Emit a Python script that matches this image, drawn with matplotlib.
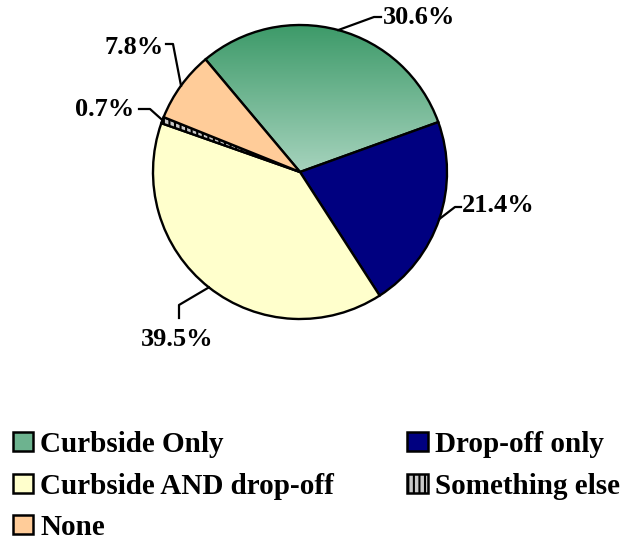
import numpy as np
import matplotlib
matplotlib.use("Agg")
import matplotlib.pyplot as plt
from matplotlib.patches import Patch
from matplotlib.colors import to_rgb

# data
categories = ["Curbside Only", "Drop-off only", "Curbside AND drop-off", "Something else", "None"]
shares = [30.6, 21.4, 39.5, 0.7, 7.8]
colors = ["#6db38f", "#000080", "#ffffcc", "#c8c8c8", "#ffcc99"]
hatches = [None, None, None, "|||", None]

# layout (pixel coords, y from top)
W, H = 629, 543
cx, cy, rad = 300, 172, 147
# elbow points of leader lines and text anchor per slice
elbows = [[(374, 17), (381, 17)],
          [(455, 207), (461, 207)],
          [(179, 305), (179, 318)],
          [(150, 109), (139, 109)],
          [(173, 44), (166, 44)]]
text_pos = [(383, 18, "left", "center"),
            (462, 206, "left", "center"),
            (177, 339, "center", "center"),
            (134, 110, "right", "center"),
            (164, 47, "right", "center")]

plt.rcParams["font.family"] = ["Liberation Serif", "DejaVu Serif"]
plt.rcParams["hatch.linewidth"] = 1.5

fig = plt.figure(figsize=(W / 100, H / 100), dpi=100)
ax = fig.add_axes([0, 0, 1, 1])

wedges, _ = ax.pie(shares, colors=colors, startangle=130, counterclock=False,
                   center=(cx, H - cy), radius=rad,
                   wedgeprops=dict(edgecolor="black", linewidth=1.7))
for w, h in zip(wedges, hatches):
    if h:
        w.set_hatch(h)

# gradient fill for the green slice
top = np.array(to_rgb("#3d9a69"))
bot = np.array(to_rgb("#a6d3bd"))
t = np.linspace(0, 1, 200)[:, None]
grad = (top * (1 - t) + bot * t)[:, None, :]
img = ax.imshow(grad, extent=(cx - rad, cx + rad, H - cy, H - cy + rad),
                aspect="auto", zorder=wedges[0].get_zorder() - 0.1, origin="upper")
img.set_clip_path(wedges[0])
wedges[0].set_facecolor("none")

# leader lines and labels
for w, pct, el, tp in zip(wedges, shares, elbows, text_pos):
    mid = np.deg2rad((w.theta1 + w.theta2) / 2)
    x0 = w.center[0] + w.r * np.cos(mid)
    y0 = w.center[1] + w.r * np.sin(mid)
    xs = [x0] + [p[0] for p in el]
    ys = [y0] + [H - p[1] for p in el]
    ax.plot(xs, ys, color="black", lw=1.6, zorder=5)
    ax.text(tp[0], H - tp[1], f"{pct:.1f}%", ha=tp[2], va=tp[3],
            fontsize=19, fontweight="bold")

ax.set_xlim(0, W)
ax.set_ylim(0, H)
ax.set_aspect("auto")
ax.axis("off")

legend_colors = ["#6db38f", "#000080", "#ffffcc", "#c8c8c8", "#ffcc99"]
handles = [Patch(facecolor=c, edgecolor="black", linewidth=1.8, hatch=h, label=n)
           for c, h, n in zip(legend_colors, hatches, categories)]
order = [0, 2, 4, 1, 3]
fig.legend([handles[i] for i in order], [categories[i] for i in order],
           ncol=2, loc="upper left", bbox_to_anchor=(13 / W, 1 - 431 / H),
           frameon=False, prop=dict(size=21, weight="bold"),
           handlelength=0.7, handleheight=0.62, handletextpad=0.24,
           labelspacing=0.5, columnspacing=2.5, borderpad=0, borderaxespad=0)

fig.savefig("out.png", dpi=100)
